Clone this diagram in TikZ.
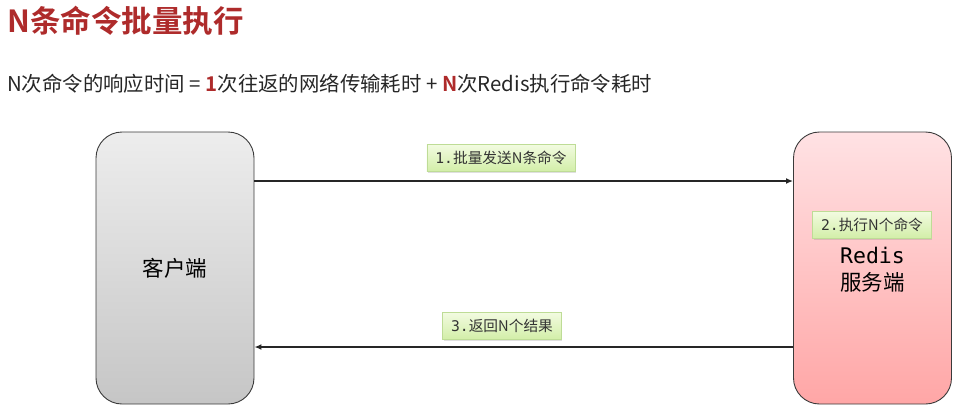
\documentclass[tikz,border=0pt]{standalone}
\usepackage{fontspec}
\setmainfont{Noto Sans CJK SC}
\newfontfamily\cjkbold{Noto Sans CJK SC Bold}
\newfontfamily\monof{DejaVu Sans Mono}
\usetikzlibrary{arrows.meta,shadows}
\definecolor{titlered}{HTML}{AE2B2B}
\definecolor{linegray}{HTML}{3A3A3A}
\tikzset{
  bigbox/.style={draw=linegray, line width=0.9pt, rounded corners=26pt, minimum width=158pt, minimum height=272pt, inner sep=0pt},
  clientbox/.style={bigbox, shading=axis, top color=gray!14, bottom color=gray!45},
  redisbox/.style={bigbox, shading=axis, top color={rgb,255:red,255;green,226;blue,228}, bottom color={rgb,255:red,255;green,166;blue,166}},
  tag/.style={draw={rgb,255:red,190;green,220;blue,150}, line width=0.6pt, shading=axis, top color={rgb,255:red,242;green,251;blue,224}, bottom color={rgb,255:red,210;green,238;blue,168}, drop shadow={shadow xshift=1pt, shadow yshift=-1.5pt, opacity=0.25}, inner xsep=8.5pt, minimum height=27pt, text=black!80, font=\fontsize{14.7}{16}\selectfont},
  flow/.style={draw=black!85, line width=1.4pt, -{Latex[length=7pt,width=6pt]}}
}
\begin{document}
\begin{tikzpicture}[x=1pt,y=-1pt]
\useasboundingbox (0,0) rectangle (966,416);
\node[anchor=west, inner sep=0pt, text=titlered, font=\cjkbold\fontsize{30.5}{33}\selectfont] (title) at (7,21) {N条命令批量执行};
\node[anchor=west, inner sep=0pt, text=black!85, font=\fontsize{20.4}{24}\selectfont] (sub) at (7,84) {N次命令的响应时间 = {\cjkbold\color{titlered}1}次往返的网络传输耗时 + {\cjkbold\color{titlered}N}次Redis执行命令耗时};
\node[clientbox, font=\fontsize{21.5}{26}\selectfont] (client) at (175,268) {客户端};
\node[redisbox] (redis) at (872.5,268) {};
\node[align=center, inner sep=0pt, font=\fontsize{21.5}{27}\selectfont] (rtext) at (872.5,270) {{\monof Redis}\\服务端};
\node[tag] (t2) at (872,225) {{\monof 2.}执行N个命令};
\draw[flow] (client.east |- 0,181) -- (redis.west |- 0,181);
\draw[flow] (redis.west |- 0,347) -- (client.east |- 0,347);
\node[tag] (t1) at (501,158) {{\monof 1.}批量发送N条命令};
\node[tag] (t3) at (502,326) {{\monof 3.}返回N个结果};
\end{tikzpicture}
\end{document}
